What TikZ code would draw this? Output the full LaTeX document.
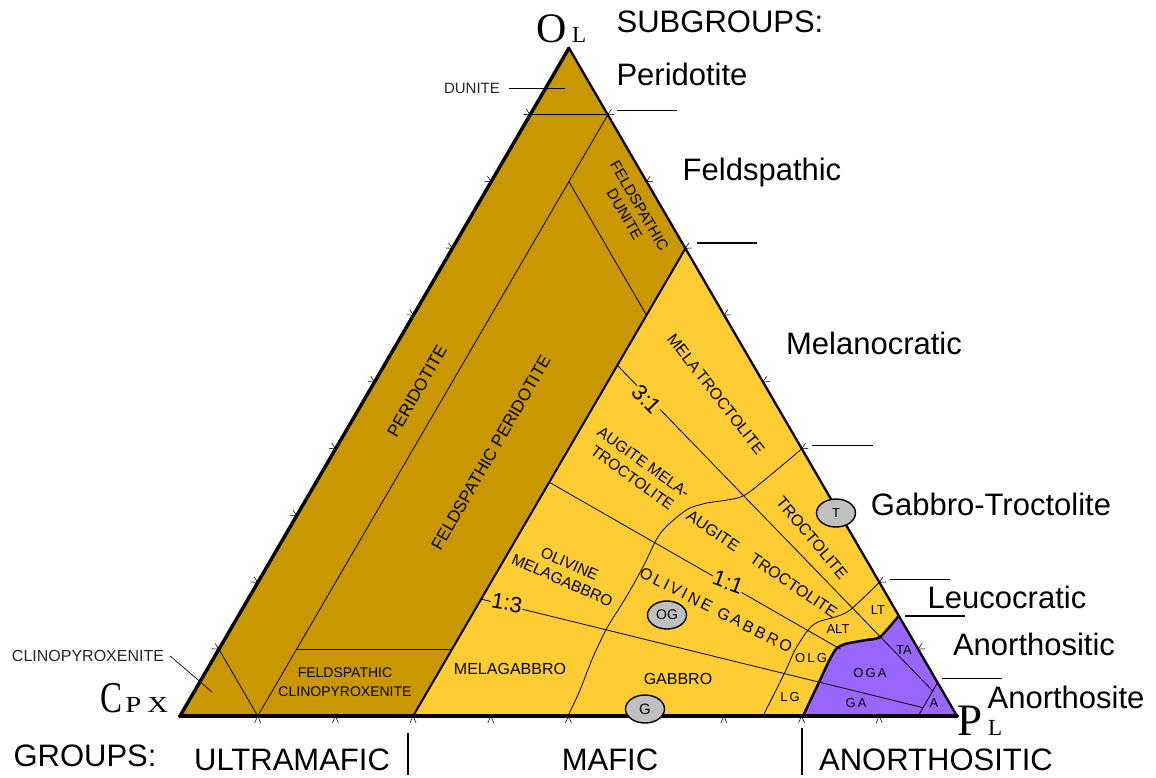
\documentclass[tikz,border=0pt]{standalone}
\usepackage{fontspec}
\setmainfont{Liberation Sans}
\newfontfamily\serifvx{Liberation Serif}
\usetikzlibrary{calc,shapes.geometric}
\definecolor{ultra}{RGB}{201,151,0}
\definecolor{maficc}{RGB}{255,204,51}
\definecolor{anor}{RGB}{153,102,255}
\definecolor{pill}{RGB}{192,192,192}
\begin{document}
\begin{tikzpicture}[x=1pt,y=-1pt,
  thinline/.style={line width=0.8pt},
  tickline/.style={line width=0.55pt},
  big/.style={font=\fontsize{31}{36}\selectfont, anchor=base, inner sep=0pt},
  lab/.style={inner sep=0pt, align=center},
  small/.style={inner sep=0pt, font=\fontsize{13}{13}\selectfont},
  ratio/.style={font=\fontsize{22}{22}\selectfont, fill=maficc, inner sep=1pt},
  pillnode/.style={ellipse, draw=black, line width=1.4pt, fill=pill, minimum width=39pt, minimum height=28pt, inner sep=0pt},
]
\useasboundingbox (0,0) rectangle (1156,777);
\coordinate (O) at (569,48);
\coordinate (C) at (180,716);
\coordinate (P) at (957,716);
\coordinate (u1) at (barycentric cs:O=0.7,C=0,P=0.3);
\coordinate (u2) at (barycentric cs:O=0,C=0.7,P=0.3);

% regions
\fill[ultra] (O) -- (C) -- (u2) -- (u1) -- cycle;
\fill[maficc] (u1) -- (P) -- (u2) -- cycle;
\fill[anor] (P) -- plot[smooth,tension=0.4] coordinates {(898.8,615.8) (880,637) (866,640) (845,644) (836,649) (829,661) (821,678) (803,716)} -- cycle;

% ultramafic internal lines
\draw[thinline] (barycentric cs:O=0.9,C=0.1,P=0) -- (barycentric cs:O=0.9,C=0,P=0.1);
\draw[thinline] (barycentric cs:O=0.9,C=0,P=0.1) -- (barycentric cs:O=0,C=0.9,P=0.1);
\draw[thinline] (barycentric cs:O=0.1,C=0.9,P=0) -- (barycentric cs:O=0,C=0.9,P=0.1);
\draw[thinline] (barycentric cs:O=0.8,C=0.1,P=0.1) -- (barycentric cs:O=0.6,C=0.1,P=0.3);
\draw[thinline] (barycentric cs:O=0.1,C=0.8,P=0.1) -- (barycentric cs:O=0.1,C=0.6,P=0.3);

% ratio lines
\draw[thinline] (barycentric cs:O=0.525,C=0.175,P=0.3) -- (barycentric cs:O=0.0375,C=0.0125,P=0.95);
\draw[thinline] (barycentric cs:O=0.35,C=0.35,P=0.3) -- (barycentric cs:O=0.1,C=0.1,P=0.8);
\draw[thinline] (barycentric cs:O=0.175,C=0.525,P=0.3) -- (barycentric cs:O=0.0125,C=0.0375,P=0.95);
% anorthosite line
\draw[thinline] (barycentric cs:O=0.05,C=0,P=0.95) -- (barycentric cs:O=0,C=0.05,P=0.95);

% melanocratic / gabbro-troctolite boundary
\draw[thinline] plot[smooth,tension=0.5] coordinates {(801.8,448.8) (773,473) (745,495) (727,500) (707,503) (690,508) (677,517) (663,530) (655,542) (645,563) (632,587) (620,607) (607,628) (593,657) (580,690) (568,716)};
% gabbro-troctolite / leucocratic boundary
\draw[thinline] plot[smooth,tension=0.5] coordinates {(879.4,582.4) (850,610) (835,617) (818,622) (808,630) (795,650) (785,672) (763,716)};

% main boundaries
\draw[line width=2pt] (u1) -- (u2);
\draw[line width=2.5pt, line cap=round] plot[smooth,tension=0.4] coordinates {(898.8,615.8) (880,637) (866,640) (845,644) (836,649) (829,661) (821,678) (803,716)};
\draw[line width=3.4pt, line cap=round] (C) -- (O);
\draw[line width=2.3pt, line cap=round] (O) -- (P);
\draw[line width=3.6pt, line cap=round] (C) -- (P);

% tick marks
\foreach \i in {1,...,9}{
  \pgfmathsetmacro{\j}{10-\i}
  \coordinate (tl) at (barycentric cs:O=\i,C=\j,P=0);
  \draw[tickline] ($(tl)+(-3.7,-5.6)$) -- (tl) -- ($(tl)+(-6.7,-0.4)$);
  \coordinate (tr) at (barycentric cs:O=\i,C=0,P=\j);
  \draw[tickline] ($(tr)+(6.7,-0.4)$) -- (tr) -- ($(tr)+(3.7,-5.6)$);
  \coordinate (tb) at (barycentric cs:O=0,C=\i,P=\j);
  \draw[tickline] ($(tb)+(-3,7)$) -- (tb) -- ($(tb)+(3,7)$);
}

% subgroup separators
\draw[line width=1pt] (617,110) -- (677,110);
\draw[line width=2pt] (697,243) -- (757,243);
\draw[line width=1pt] (812,445) -- (873,445);
\draw[line width=1pt] (890,579) -- (950,579);
\draw[line width=2pt] (905,616) -- (965,616);
\draw[line width=1pt] (942,678) -- (1002,678);
% group separators
\draw[line width=2pt] (408,733) -- (408,775);
\draw[line width=2pt] (802,728) -- (802,775);

% vertex labels
\node[font=\serifvx\fontsize{42}{42}\selectfont, anchor=base west, inner sep=0pt] (olO) at (536,42) {O};
\node[font=\serifvx\fontsize{23}{23}\selectfont, anchor=base west, inner sep=0pt] (olL) at (572,42) {L};
\node[font=\serifvx\fontsize{44}{44}\selectfont, anchor=base west, inner sep=0pt, xscale=0.75] (cC) at (100,712) {C};
\node[font=\serifvx\fontsize{23}{23}\selectfont, anchor=base west, inner sep=0pt, xscale=1.25] (cPX) at (125,712) {P\hspace{5pt}X};
\node[font=\serifvx\fontsize{45}{45}\selectfont, anchor=base west, inner sep=0pt] (pP) at (957,735) {P};
\node[font=\serifvx\fontsize{23}{23}\selectfont, anchor=base west, inner sep=0pt] (pL) at (988,735) {L};

% big labels
\node[big] (sub) at (720,32) {SUBGROUPS:};
\node[big] (s1) at (682,85) {Peridotite};
\node[big] (s2) at (762,180) {Feldspathic};
\node[big] (s3) at (874,354) {Melanocratic};
\node[big] (s4) at (991,515) {Gabbro-Troctolite};
\node[big] (s5) at (1007,608) {Leucocratic};
\node[big] (s6) at (1034,655) {Anorthositic};
\node[big] (s7) at (1066,708) {Anorthosite};
\node[big] (grp) at (85,766) {GROUPS:};
\node[big] (g1) at (292,770) {ULTRAMAFIC};
\node[big] (g2) at (610,770) {MAFIC};
\node[big] (g3) at (936,770) {ANORTHOSITIC};

% leader labels
\node[lab, font=\fontsize{15}{15}\selectfont, text=black!85] (dunl) at (472,88) {DUNITE};
\coordinate (dunend) at (565,88);
\draw[line width=0.8pt] ([xshift=9pt]dunl.east) -- (dunend);
\node[lab, font=\fontsize{16}{16}\selectfont, text=black!85] (cpxl) at (88,656) {CLINOPYROXENITE};
\coordinate (cpxend) at (212,692);
\draw[line width=0.7pt] ([xshift=6pt]cpxl.east) -- (cpxend);

% ultramafic field labels
\node[lab, font=\fontsize{15}{17}\selectfont, rotate=-60] (fdun) at (632,210) {FELDSPATHIC\\DUNITE};
\node[lab, font=\fontsize{17}{17}\selectfont, rotate=60] (perl) at (417,391) {PERIDOTITE};
\node[lab, font=\fontsize{17}{17}\selectfont, rotate=60] (fperl) at (491,453) {FELDSPATHIC PERIDOTITE};
\node[lab, font=\fontsize{14}{19}\selectfont] (fcpx) at (345,682) {FELDSPATHIC\\CLINOPYROXENITE};

% mafic field labels
\node[lab, font=\fontsize{16}{16}\selectfont, rotate=-52] (mtroc) at (716,394) {MELA\,TROCTOLITE};
\node[ratio, rotate=-46] (r31) at (647,399) {3:1};
\node[lab, font=\fontsize{15.5}{19}\selectfont, rotate=-36] (amt) at (638,470) {AUGITE MELA-\\TROCTOLITE};
\node[lab, font=\fontsize{15.5}{18}\selectfont, rotate=-24] (omg) at (566,572) {OLIVINE\\MELAGABBRO};
\node[ratio, rotate=-20] (r11) at (728,582) {1:1};
\node[ratio, rotate=-10] (r13) at (507,603) {1:3};
\node[lab, font=\fontsize{16}{16}\selectfont, rotate=-34] (atroc) at (762,564) {AUGITE\hspace{17pt}TROCTOLITE};
\node[lab, font=\fontsize{16}{16}\selectfont, rotate=-50] (troc) at (812,538) {TROCTOLITE};
\node[lab, font=\fontsize{16}{16}\selectfont, rotate=-27] (ogab) at (716,610) {O\,L\,I\,V\,I\,N\,E\enspace G\,A\,B\,B\,R\,O};
\node[lab, font=\fontsize{16}{16}\selectfont] (mgab) at (510,669) {MELAGABBRO};
\node[lab, font=\fontsize{16}{16}\selectfont] (gab) at (678,679) {GABBRO};

% leucocratic and anorthositic labels
\node[small] (lg) at (790,697) {L\,G};
\node[small] (olg) at (811,658) {O\,L\,G};
\node[small] (alt) at (838,629) {ALT};
\node[small] (lt) at (878,610) {LT};
\node[small] (ta) at (904,650) {TA};
\node[small] (oga) at (870,673) {O\,G\,A};
\node[small] (ga) at (856,703) {G\,A};
\node[small] (aa) at (934,703) {A};

% marker ellipses
\node[pillnode, font=\fontsize{13}{13}\selectfont] (pT) at (836,513) {T};
\node[pillnode, font=\fontsize{14}{14}\selectfont] (pOG) at (667,615) {OG};
\node[pillnode, font=\fontsize{15}{15}\selectfont] (pG) at (645,709) {G};
\end{tikzpicture}
\end{document}
